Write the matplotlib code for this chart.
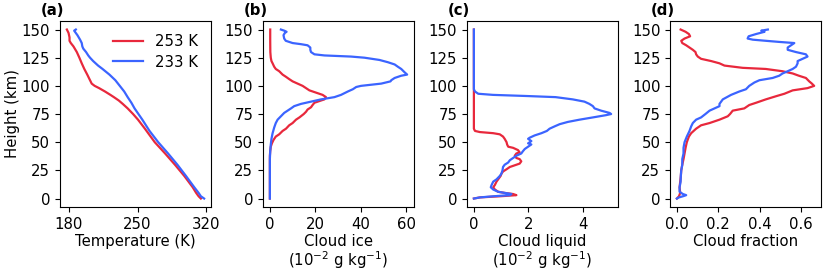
import matplotlib
matplotlib.use("Agg")
import matplotlib.pyplot as plt
import numpy as np

# (a) temperature profiles, K
temp_h_253 = [150, 147, 143, 140, 138, 135, 130, 125, 120, 115, 110, 105, 102, 100, 98, 95, 92, 90, 87, 84, 80, 75, 70, 62, 50, 40, 30, 20, 10, 5, 2, 0]
temp_253 = [178.3, 180, 181, 181, 182.3, 185, 188.4, 191, 193.4, 196, 199, 201.8, 203.5, 206.5, 211, 217, 222.5, 226, 231, 235, 240, 245.5, 250.5, 257.5, 267.5, 278, 288, 297.5, 306, 309.5, 312, 314.3]
temp_h_233 = [150, 149, 148, 145, 141, 138, 135, 133, 130, 127, 125, 122, 118, 115, 110, 105, 100, 95, 90, 85, 80, 70, 60, 50, 40, 30, 20, 10, 5, 2, 0]
temp_233 = [187.4, 185.7, 186.5, 189, 191.7, 193.4, 194, 195, 197.8, 200, 201.8, 205, 210, 214.5, 221.5, 227.5, 232, 236.5, 240, 243.8, 247, 254.9, 262.2, 271, 281, 290.5, 299.2, 307.6, 312, 314.3, 317.6]

# (b) cloud ice, 1e-2 g/kg
ice_h_253 = [150, 140, 130, 125, 122, 120, 117, 115, 113, 110, 108, 106, 104, 102, 100, 98, 96, 94, 92, 90, 88, 87, 85, 83, 81, 79, 77, 75, 72, 70, 67, 65, 62, 60, 57, 55, 52, 49, 46, 42, 38, 0]
ice_253 = [0.15, 0.15, 0.2, 0.4, 0.7, 1.2, 1.9, 2.6, 4.1, 5.6, 7.1, 8.5, 10, 12.2, 14.4, 15.9, 17.4, 20.3, 23.2, 24.7, 24, 22.5, 19.6, 18.8, 18.1, 16.6, 15.9, 14.9, 13, 11.5, 10, 8.5, 7.1, 5.6, 4.1, 2.6, 1.6, 0.9, 0.4, 0.15, 0, 0]
ice_h_233 = [150, 149, 148, 147, 145, 142, 140, 138, 137, 136, 134, 132, 130, 128, 127, 126, 125, 123, 121, 119, 117, 115, 112, 110, 109, 107, 105, 104, 102, 100, 99, 97, 95, 92, 90, 88, 86, 84, 82, 80, 78, 76, 73, 70, 67, 63, 58, 53, 48, 42, 35, 0]
ice_233 = [4.85, 6.3, 7.35, 6.6, 6.0, 6.3, 7.0, 10, 13.7, 16.6, 17.8, 17.8, 18.1, 19.6, 24, 35.7, 41.6, 48.2, 51.9, 54.9, 56.3, 57.8, 59.3, 60.4, 57.8, 54.9, 53.4, 53.1, 49, 40.1, 38, 36.5, 34.3, 31.3, 28.4, 22.5, 18.1, 13.7, 10.7, 9.3, 7.8, 6.3, 4.85, 3.4, 2.6, 1.9, 1.2, 0.7, 0.4, 0.15, 0, 0]

# (c) cloud liquid, 1e-2 g/kg
liq_h_253 = [150, 62, 60, 59, 58, 57, 55, 53, 50, 48, 46, 45, 43, 41, 40, 38, 36, 35, 33, 31, 30, 28, 26, 24, 22, 20, 17, 15, 12, 10, 8, 6, 5, 4, 3, 2, 1, 0]
liq_253 = [0, 0, 0.04, 0.22, 0.71, 0.95, 1.07, 1.13, 1.2, 1.22, 1.26, 1.44, 1.62, 1.68, 1.56, 1.5, 1.56, 1.68, 1.74, 1.68, 1.56, 1.32, 1.2, 1.07, 1.01, 0.98, 0.89, 0.83, 0.77, 0.71, 0.77, 0.89, 1.13, 1.44, 1.56, 0.95, 0.22, 0]
liq_h_233 = [150, 97, 95, 93, 92, 91, 90, 88, 86, 84, 82, 80, 78, 76, 75, 74, 72, 70, 68, 66, 64, 62, 60, 58, 56, 54, 53, 51, 50, 49, 48, 46, 44, 42, 40, 38, 36, 34, 32, 30, 28, 25, 22, 20, 17, 15, 12, 10, 8, 6, 5, 4, 3, 2, 1, 0]
liq_233 = [0, 0, 0.04, 0.16, 0.7, 1.93, 3.0, 3.63, 4.06, 4.24, 4.37, 4.43, 4.67, 4.98, 5.04, 4.85, 4.37, 3.88, 3.45, 3.15, 2.96, 2.78, 2.68, 2.48, 2.23, 2.05, 1.99, 2.11, 2.05, 1.99, 2.11, 1.99, 1.87, 1.8, 1.74, 1.56, 1.44, 1.32, 1.26, 1.13, 1.07, 1.05, 1.01, 0.95, 0.83, 0.71, 0.65, 0.62, 0.71, 0.89, 1.13, 1.38, 1.32, 0.71, 0.22, 0]

# (d) cloud fraction
cf_h_253 = [150, 148, 146, 144, 142, 140, 138, 136, 134, 132, 130, 128, 126, 124, 122, 120, 118, 116, 115, 113, 111, 109, 107, 104, 102, 100, 98, 96, 93, 91, 88, 85, 83, 80, 78, 75, 73, 70, 67, 65, 62, 58, 55, 50, 45, 40, 35, 30, 25, 20, 15, 10, 5, 2, 0]
cf_253 = [0.018, 0.042, 0.058, 0.064, 0.037, 0.021, 0.026, 0.045, 0.061, 0.077, 0.09, 0.093, 0.101, 0.117, 0.166, 0.206, 0.23, 0.318, 0.43, 0.51, 0.56, 0.59, 0.624, 0.64, 0.653, 0.664, 0.632, 0.56, 0.52, 0.483, 0.43, 0.383, 0.35, 0.326, 0.27, 0.257, 0.246, 0.206, 0.158, 0.117, 0.093, 0.069, 0.058, 0.048, 0.042, 0.037, 0.032, 0.026, 0.021, 0.019, 0.016, 0.013, 0.016, 0.01, 0.0]
cf_h_233 = [150, 149, 148, 146, 144, 142, 141, 140, 139, 138, 136, 134, 132, 130, 128, 126, 124, 122, 120, 117, 115, 113, 111, 109, 107, 105, 103, 100, 97, 95, 92, 88, 86, 84, 82, 80, 78, 75, 72, 70, 67, 64, 60, 55, 50, 45, 40, 35, 30, 25, 20, 15, 10, 6, 4, 3, 2, 1, 0]
cf_233 = [0.44, 0.408, 0.424, 0.383, 0.347, 0.342, 0.367, 0.43, 0.495, 0.568, 0.552, 0.536, 0.536, 0.576, 0.624, 0.632, 0.608, 0.584, 0.584, 0.576, 0.56, 0.536, 0.511, 0.495, 0.463, 0.399, 0.375, 0.35, 0.334, 0.302, 0.262, 0.222, 0.214, 0.206, 0.206, 0.182, 0.158, 0.138, 0.117, 0.093, 0.077, 0.069, 0.061, 0.048, 0.037, 0.032, 0.032, 0.026, 0.026, 0.021, 0.019, 0.018, 0.013, 0.013, 0.029, 0.045, 0.029, 0.01, 0.0]

red = '#e8283c'
blue = '#3b64ff'

plt.rcParams['font.family'] = 'DejaVu Sans'
plt.rcParams['font.size'] = 10.7

fig = plt.figure(figsize=(8.31, 2.73), dpi=100)
lefts = [0.0722, 0.3165, 0.562, 0.8063]
axes = [fig.add_axes([l, 0.2418, 0.1817, 0.681]) for l in lefts]

panels = [
    (temp_h_253, temp_253, temp_h_233, temp_233, "Temperature (K)", [180, 250, 320], None),
    (ice_h_253, ice_253, ice_h_233, ice_233, "Cloud ice\n(10$^{-2}$ g kg$^{-1}$)", [0, 20, 40, 60], None),
    (liq_h_253, liq_253, liq_h_233, liq_233, "Cloud liquid\n(10$^{-2}$ g kg$^{-1}$)", [0, 2, 4], None),
    (cf_h_253, cf_253, cf_h_233, cf_233, "Cloud fraction", [0.0, 0.2, 0.4, 0.6], ['0.0', '0.2', '0.4', '0.6']),
]

for i, (ax, p) in enumerate(zip(axes, panels)):
    h1, v1, h2, v2, xlab, xt, xtl = p
    ax.plot(v1, h1, color=red, lw=1.6, label='253 K')
    ax.plot(v2, h2, color=blue, lw=1.6, label='233 K')
    ax.set_xticks(xt)
    if xtl:
        ax.set_xticklabels(xtl)
    ax.set_yticks([0, 25, 50, 75, 100, 125, 150])
    ax.set_xlabel(xlab, labelpad=2, linespacing=1.0)
    ax.text(-0.13, 1.015, '(' + 'abcd'[i] + ')', transform=ax.transAxes,
            fontweight='bold', va='bottom', ha='left')

axes[0].set_ylabel('Height (km)', labelpad=1)
axes[0].legend(loc='upper right', frameon=False, handlelength=2.0, labelspacing=0.35)

plt.savefig('out.png', dpi=100)
